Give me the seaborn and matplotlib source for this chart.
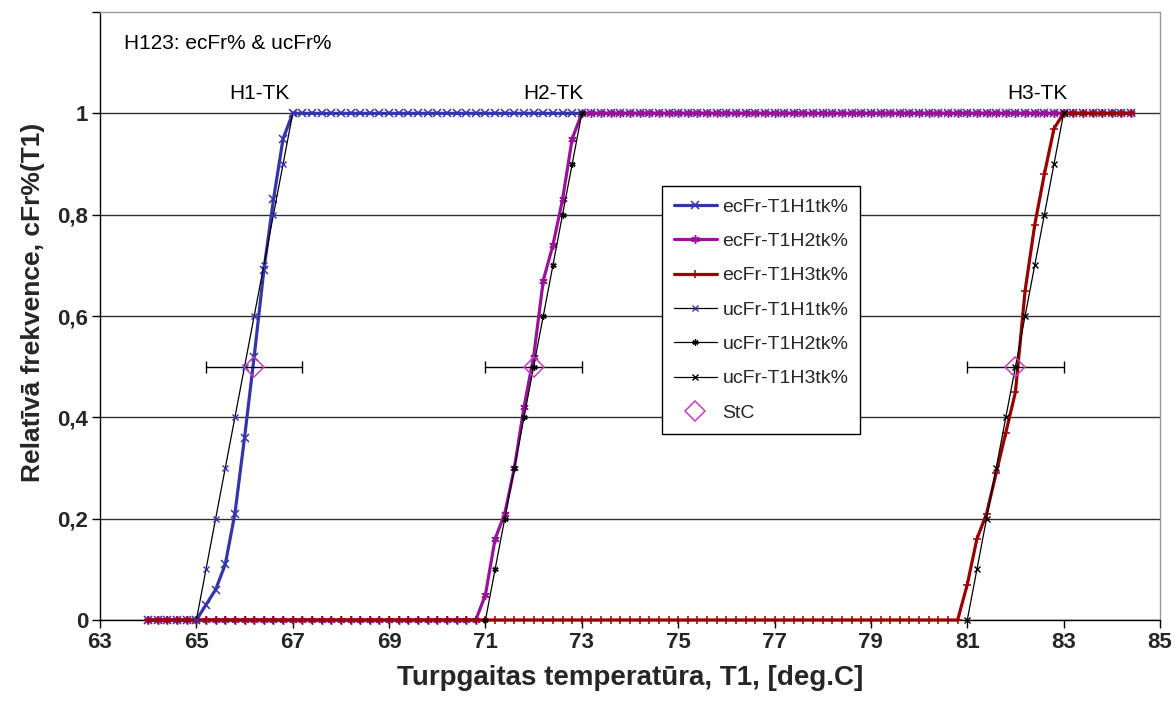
#!/usr/bin/env python3
"""Relative frequency curves ecFr% / ucFr% for H1, H2, H3 vs supply temperature T1."""

import matplotlib

matplotlib.use("Agg")
import matplotlib.pyplot as plt
import seaborn as sns
from matplotlib.ticker import FuncFormatter

# temperature sample points of the ec series, deg.C (0.2 step, 64 .. 84.4)
T_GRID = [round(64 + 0.2 * i, 1) for i in range(103)]

# ec transitions (values below the first point are 0, above the last are 1)
EC_H1_T = [65.0, 65.2, 65.4, 65.6, 65.8, 66.0, 66.2, 66.4, 66.6, 66.8, 67.0]
EC_H1_V = [0.0, 0.03, 0.06, 0.11, 0.21, 0.36, 0.52, 0.69, 0.83, 0.95, 1.0]
EC_H2_T = [70.8, 71.0, 71.2, 71.4, 71.6, 71.8, 72.0, 72.2, 72.4, 72.6, 72.8, 73.0]
EC_H2_V = [0.0, 0.05, 0.16, 0.21, 0.30, 0.42, 0.52, 0.67, 0.74, 0.83, 0.95, 1.0]
EC_H3_T = [80.8, 81.0, 81.2, 81.4, 81.6, 81.8, 82.0, 82.2, 82.4, 82.6, 82.8, 83.0]
EC_H3_V = [0.0, 0.07, 0.16, 0.21, 0.29, 0.37, 0.45, 0.65, 0.78, 0.88, 0.97, 1.0]

# uc curves
UC_V = [0.0, 0.1, 0.2, 0.3, 0.4, 0.5, 0.6, 0.7, 0.8, 0.9, 1.0]
UC_H1_T = [65.0, 65.2, 65.4, 65.6, 65.8, 66.0, 66.2, 66.4, 66.6, 66.8, 67.0]
UC_H2_T = [71.0, 71.2, 71.4, 71.6, 71.8, 72.0, 72.2, 72.4, 72.6, 72.8, 73.0]
UC_H3_T = [81.0, 81.2, 81.4, 81.6, 81.8, 82.0, 82.2, 82.4, 82.6, 82.8, 83.0]

# StC points with +-1 deg bars
STC_T = [66.2, 72.0, 82.0]
STC_V = [0.5, 0.5, 0.5]
STC_ERR = [1.0, 1.0, 1.0]

TK_LABELS = ["H1-TK", "H2-TK", "H3-TK"]
TK_T = [66.3, 72.4, 82.45]

X_TICKS = [63, 65, 67, 69, 71, 73, 75, 77, 79, 81, 83, 85]
Y_TICKS = [0, 0.2, 0.4, 0.6, 0.8, 1.0, 1.2]

BLUE = "#3535a8"
PURPLE = "#9a129a"
RED = "#990000"
MAGENTA = "#c040c0"
ASTERISK = (6, 2, 0)


def full_series(t_pts, v_pts):
    lookup = dict(zip(t_pts, v_pts))
    out = []
    for t in T_GRID:
        if t < t_pts[0]:
            out.append(0.0)
        elif t > t_pts[-1]:
            out.append(1.0)
        else:
            out.append(lookup[t])
    return out


def main() -> None:
    sns.set_theme(style="white")
    plt.rcParams["font.family"] = ["Liberation Sans", "DejaVu Sans"]

    fig = plt.figure(figsize=(11.76, 7.08), dpi=100)
    ax = fig.add_axes([100 / 1176, 88 / 708, 1060 / 1176, 608 / 708])

    ec = [
        ("ecFr-T1H1tk%", EC_H1_T, EC_H1_V, BLUE, "x"),
        ("ecFr-T1H2tk%", EC_H2_T, EC_H2_V, PURPLE, ASTERISK),
        ("ecFr-T1H3tk%", EC_H3_T, EC_H3_V, RED, "+"),
    ]
    for name, t, v, col, mk in ec:
        sns.lineplot(x=T_GRID, y=full_series(t, v), ax=ax, color=col, lw=2.3,
                     marker=mk, markersize=6, markeredgecolor=col,
                     markeredgewidth=1.1, estimator=None, sort=False,
                     label=name, legend=False, clip_on=False, zorder=3)

    uc = [
        ("ucFr-T1H1tk%", UC_H1_T, BLUE, "x"),
        ("ucFr-T1H2tk%", UC_H2_T, "black", ASTERISK),
        ("ucFr-T1H3tk%", UC_H3_T, "black", "x"),
    ]
    for name, t, mcol, mk in uc:
        sns.lineplot(x=t, y=UC_V, ax=ax, color="black", lw=0.9,
                     marker=mk, markersize=4.5, markeredgecolor=mcol,
                     markeredgewidth=1.0, estimator=None, sort=False,
                     label=name, legend=False, clip_on=False, zorder=3.2)

    ax.errorbar(STC_T, STC_V, xerr=STC_ERR, fmt="none", ecolor="black",
                elinewidth=1.0, capsize=4.5, capthick=1.0, zorder=4)
    ax.plot(STC_T, STC_V, linestyle="none", marker="D", markersize=10.5,
            markerfacecolor="none", markeredgecolor=MAGENTA,
            markeredgewidth=1.1, label="StC", zorder=5)

    for lab, t in zip(TK_LABELS, TK_T):
        ax.text(t, 1.04, lab, ha="center", va="center", fontsize=15, color="black")
    ax.text(63.5, 1.138, "H123: ecFr% & ucFr%", ha="left", va="center",
            fontsize=15, color="black")

    ax.set_xlim(63, 85)
    ax.set_ylim(0, 1.2)
    ax.set_xticks(X_TICKS)
    ax.set_yticks(Y_TICKS)
    ax.yaxis.set_major_formatter(FuncFormatter(
        lambda v, _: "" if v > 1.05 else f"{v:g}".replace(".", ",")))

    ax.yaxis.grid(True, color="#2e2e2e", lw=1.0)
    ax.xaxis.grid(False)
    ax.set_axisbelow(True)
    ax.get_ygridlines()[-1].set_visible(False)

    for side in ("left", "bottom"):
        ax.spines[side].set_color("black")
        ax.spines[side].set_linewidth(1.0)
    for side in ("top", "right"):
        ax.spines[side].set_color("#9a9a9a")
        ax.spines[side].set_linewidth(1.0)

    ax.tick_params(axis="both", which="major", direction="out", length=5.5,
                   width=1.0, color="black", labelsize=16, bottom=True, left=True)
    ax.tick_params(axis="x", pad=3)
    ax.tick_params(axis="y", pad=3)
    for lab in ax.get_xticklabels() + ax.get_yticklabels():
        lab.set_fontweight("bold")

    ax.set_xlabel("Turpgaitas temperatūra, T1, [deg.C]", fontsize=20,
                  fontweight="bold", labelpad=9)
    ax.set_ylabel("Relatīvā frekvence, cFr%(T1)", fontsize=19,
                  fontweight="bold")
    ax.yaxis.set_label_coords(-0.052, 0.523)

    handles, labels = ax.get_legend_handles_labels()
    leg = ax.legend(handles, labels, loc="upper left",
                    bbox_to_anchor=((662 - 100) / 1060, (620 - 186) / 608),
                    borderaxespad=0, fontsize=14, frameon=True, fancybox=False,
                    framealpha=1, edgecolor="black", numpoints=1,
                    handlelength=2.2, handletextpad=0.28, labelspacing=0.86,
                    borderpad=0.62)
    leg.get_frame().set_linewidth(1.0)

    fig.savefig("out.png", dpi=100, facecolor="white")
    plt.close(fig)


if __name__ == "__main__":
    main()
